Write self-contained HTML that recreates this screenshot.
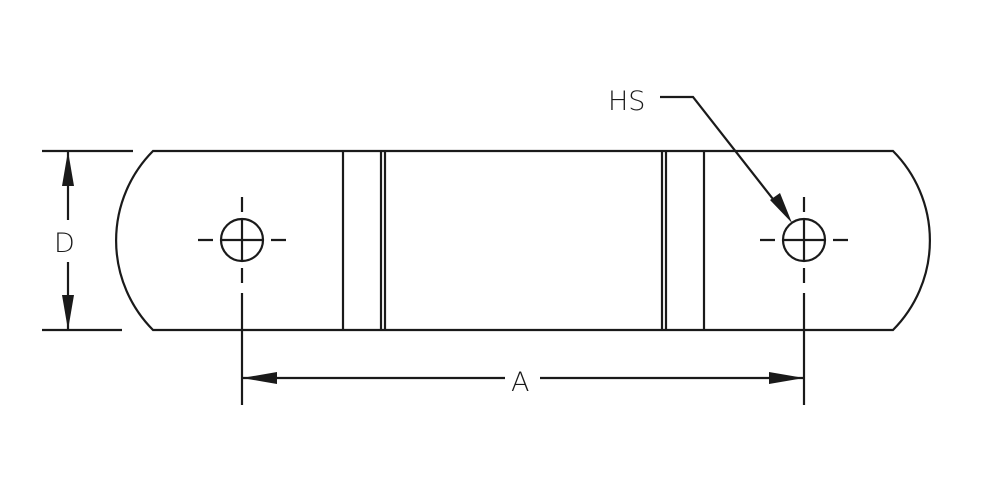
<!DOCTYPE html>
<html><head><style>body{margin:0;background:#fff}svg{display:block}</style></head><body>
<svg width="1000" height="500" viewBox="0 0 1000 500" xmlns="http://www.w3.org/2000/svg">
<g fill="none" stroke="#1a1a1a" stroke-width="2.2">
<path d="M153,151 L893,151 A127,127 0 0 1 893,330 L153,330 A127,127 0 0 1 153,151 Z"/>
<line x1="343" y1="151" x2="343" y2="330"/>
<line x1="381" y1="151" x2="381" y2="330"/>
<line x1="385" y1="151" x2="385" y2="330"/>
<line x1="662" y1="151" x2="662" y2="330"/>
<line x1="666" y1="151" x2="666" y2="330"/>
<line x1="704" y1="151" x2="704" y2="330"/>
<circle cx="242" cy="240" r="21"/>
<circle cx="804" cy="240" r="21"/>
<path d="M221,240H263M242,219V261M198,240H213M271,240H286M242,197V212M242,268V283M242,293V405"/>
<path d="M783,240H825M804,219V261M760,240H775M833,240H848M804,197V212M804,268V283M804,293V405"/>
<path d="M42,151H133M42,330H122M68,151V220M68,262V330"/>
<path d="M242,378H505M540,378H804"/>
<path d="M660,97H693L780,208"/>
</g>
<g fill="#1a1a1a">
<polygon points="68,151 62,186 74,186"/>
<polygon points="68,330 62,295 74,295"/>
<polygon points="242,378 277,372 277,384"/>
<polygon points="804,378 769,372 769,384"/>
<polygon points="792,223 770,200 780,193"/>
</g>
<g font-family="DejaVu Sans, Liberation Sans, sans-serif" font-size="27" fill="#1a1a1a" font-weight="300">
<text x="54" y="252">D</text>
<text x="511" y="391">A</text>
<text x="608" y="110">HS</text>
</g>
</svg>
</body></html>
